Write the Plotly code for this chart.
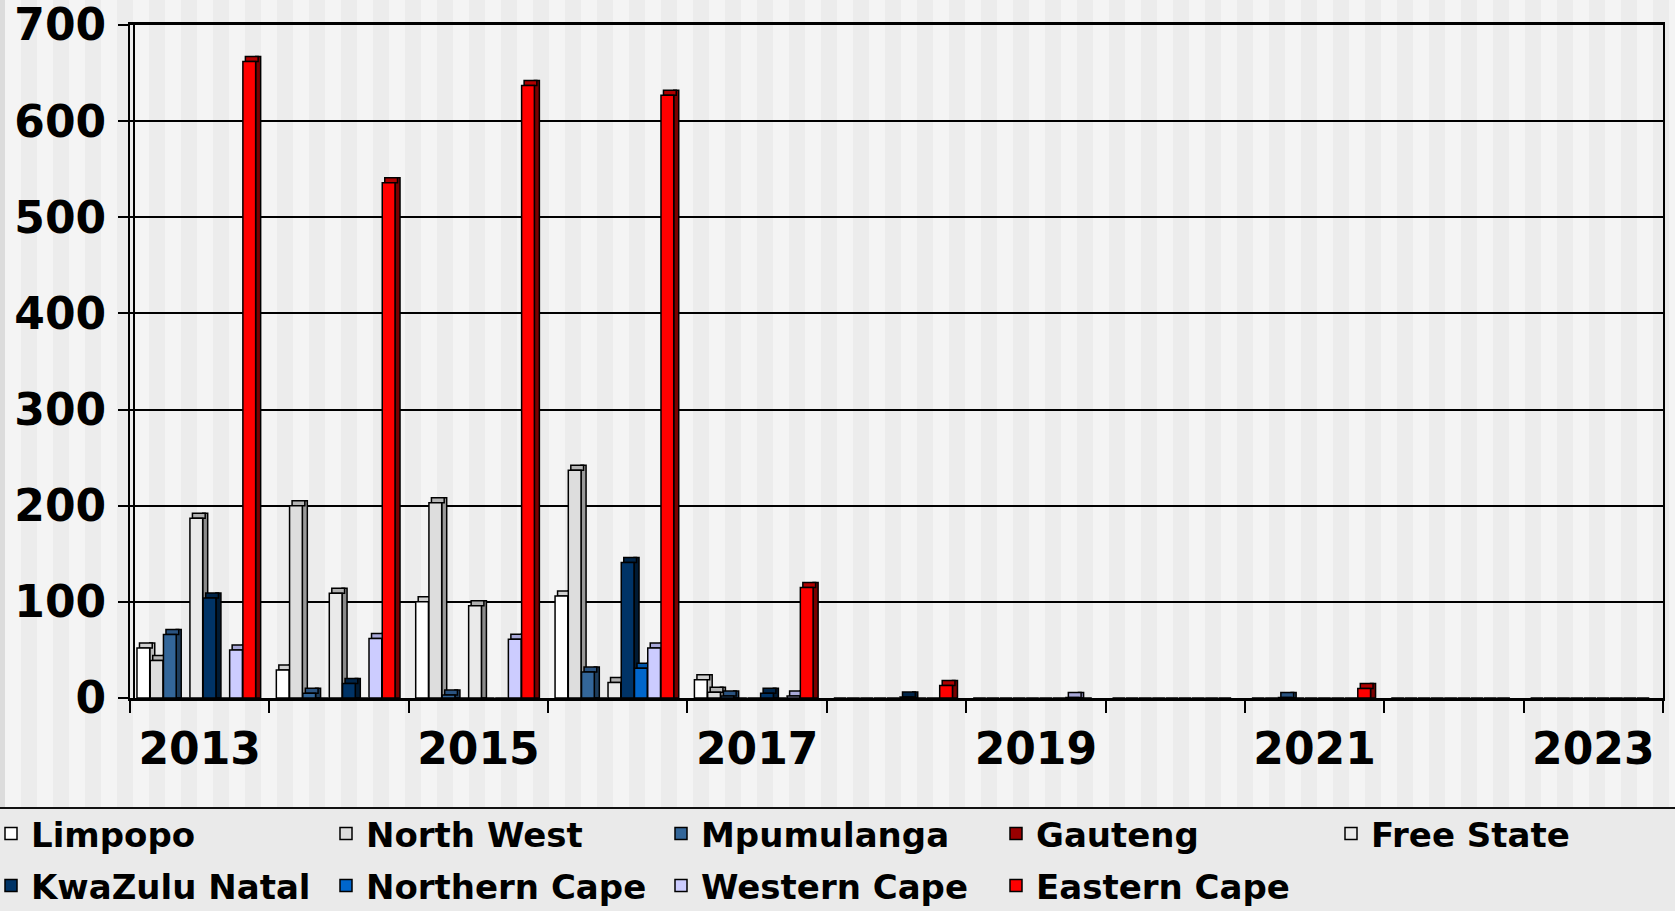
import plotly.graph_objects as go

# ---------------- data ----------------
years = list(range(2013, 2024))
tick_years = [2013, 2015, 2017, 2019, 2021, 2023]

series_names = ["Limpopo", "North West", "Mpumulanga", "Gauteng", "Free State",
                "KwaZulu Natal", "Northern Cape", "Western Cape", "Eastern Cape"]

limpopo       = [52, 29, 100, 106, 19, 0, 0, 0, 0, 0, 0]
north_west    = [39, 200, 203, 237, 6, 0, 0, 0, 0, 0, 0]
mpumulanga    = [66, 5, 3, 27, 2, 0, 0, 0, 0.5, 0, 0]
gauteng       = [0, 0, 0, 0, 0, 0, 0, 0, 0, 0, 0]
free_state    = [187, 109, 96, 16, 0, 0, 0, 0, 0, 0, 0]
kwazulu_natal = [104, 15, 0, 141, 5, 1, 0, 0, 0, 0, 0]
northern_cape = [0, 0, 0, 31, 0, 0, 0, 0, 0, 0, 0]
western_cape  = [50, 62, 61, 52, 2, 0, 0.5, 0, 0, 0, 0]
eastern_cape  = [662, 536, 637, 627, 115, 13, 0, 0, 10, 0, 0]

series_values = [limpopo, north_west, mpumulanga, gauteng, free_state,
                 kwazulu_natal, northern_cape, western_cape, eastern_cape]

# ---------------- styles ----------------
front_colors = ["#FFFFFF", "#DDDDDD", "#336699", "#990000", "#EAEAEA",
                "#003366", "#0066CC", "#CCCCFF", "#FF0000"]
side_colors = ["#BBBBBB", "#999999", "#1E3D5C", "#550000", "#8A8A8A",
               "#001A33", "#004080", "#8A8AB8", "#7A0000"]
top_colors = ["#D0D0D0", "#B5B5B5", "#2A5380", "#770000", "#B0B0B0",
              "#002448", "#0055AA", "#A8A8D8", "#B00000"]

W, H = 1675, 911
ML, MR, MT, MB = 130, 0, 25, 213
PW = W - ML - MR
PH = H - MT - MB
PLOT_RIGHT = 1663


def px_x(p):
    return (p - ML) / PW


def px_y(p):
    return 1 - (p - MT) / PH


FONT = "DejaVu Sans"
front_w = 0.0915
stride = 0.095
left_pad = 0.05
dx = 0.036
dy = 5.2
outline = dict(color="black", width=1.5)

fig = go.Figure()

for i, (name, vals) in enumerate(zip(series_names, series_values)):
    off = -0.5 + left_pad + stride * i
    side_vals = [v + dy if v > 0 else None for v in vals]
    top_vals = [dy if v > 0 else None for v in vals]
    top_base = [v if v > 0 else None for v in vals]
    # side face
    fig.add_trace(go.Bar(
        x=years, y=side_vals, base=0, offset=off + front_w, width=dx,
        marker=dict(color=side_colors[i], line=outline),
        showlegend=False, hoverinfo="skip"))
    # top face
    fig.add_trace(go.Bar(
        x=years, y=top_vals, base=top_base, offset=off + dx * 0.5, width=front_w,
        marker=dict(color=top_colors[i], line=outline),
        showlegend=False, hoverinfo="skip"))
    # front face
    fig.add_trace(go.Bar(
        x=years, y=vals, offset=off, width=front_w, name=name,
        marker=dict(color=front_colors[i], line=outline),
        legend="legend" if i < 5 else "legend2"))

# background stripes (style only)
shapes = []
shapes.append(dict(type="rect", xref="paper", yref="paper",
                   x0=px_x(0), x1=px_x(5), y0=px_y(807), y1=px_y(0),
                   fillcolor="#DCDCDC", line=dict(width=0), layer="below"))
k = 0
x = 5
while x < W:
    shapes.append(dict(type="rect", xref="paper", yref="paper",
                       x0=px_x(x), x1=px_x(min(x + 16, W)), y0=px_y(807), y1=px_y(0),
                       fillcolor="#F4F4F4" if k % 2 == 0 else "#ECECEC",
                       line=dict(width=0), layer="below"))
    x += 16
    k += 1
# legend separator
shapes.append(dict(type="line", xref="paper", yref="paper",
                   x0=px_x(0), x1=px_x(W), y0=px_y(808), y1=px_y(808),
                   line=dict(color="#111111", width=2)))
# 3D wall edge
shapes.append(dict(type="line", xref="paper", yref="paper",
                   x0=px_x(134), x1=px_x(134), y0=px_y(MT), y1=px_y(H - MB),
                   line=dict(color="black", width=2)))
fig.update_layout(shapes=shapes)

legend_common = dict(
    orientation="h", xanchor="left", yanchor="top",
    x=px_x(-9), entrywidth=290, entrywidthmode="pixels",
    font=dict(family=FONT, size=34, color="black", weight="bold"),
    bgcolor="rgba(0,0,0,0)", borderwidth=0, traceorder="normal",
)

fig.update_layout(
    width=W, height=H,
    margin=dict(l=ML, r=MR, t=MT, b=MB, autoexpand=False),
    paper_bgcolor="#EAEAEA",
    plot_bgcolor="rgba(0,0,0,0)",
    barmode="overlay",
    legend=dict(y=px_y(805), **legend_common),
    legend2=dict(y=px_y(857), **legend_common),
    xaxis=dict(
        domain=[0, (PLOT_RIGHT - ML) / PW],
        range=[years[0] - 0.5, years[-1] + 0.5],
        tickmode="array", tickvals=tick_years, ticktext=[str(t) for t in tick_years],
        ticks="", showgrid=False, zeroline=False,
        showline=True, linecolor="black", linewidth=3, mirror=True,
        tickfont=dict(family=FONT, size=44, color="black", weight="bold"),
        ticklabelstandoff=10, ticklabeloverflow="allow",
        minor=dict(tickmode="array",
                   tickvals=[y - 0.5 for y in years] + [years[-1] + 0.5],
                   ticks="outside", ticklen=12, tickwidth=2, tickcolor="black",
                   showgrid=False),
    ),
    yaxis=dict(
        range=[0, 700], tickmode="linear", tick0=0, dtick=100,
        ticks="outside", ticklen=10, tickwidth=2, tickcolor="black",
        showgrid=True, gridcolor="black", gridwidth=2,
        zeroline=False, showline=True, linecolor="black", linewidth=2, mirror=True,
        tickfont=dict(family=FONT, size=44, color="black", weight="bold"),
        ticklabelstandoff=3, ticklabeloverflow="allow",
    ),
)

fig.write_html(
    "out.html",
    config={"displayModeBar": False},
    post_script="document.body.style.margin='0px';document.body.style.overflow='hidden';",
)
